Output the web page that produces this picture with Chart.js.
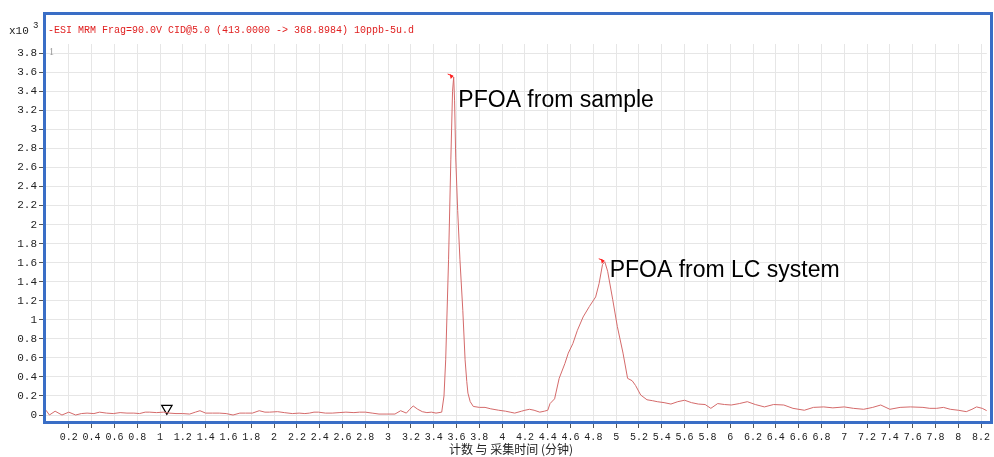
<!DOCTYPE html>
<html lang="zh">
<head>
    <meta charset="UTF-8">
    <title>PFOA MRM chromatogram</title>
    <script src="https://cdn.jsdelivr.net/npm/chart.js"></script>
    <style>
        html, body {
            margin: 0;
            padding: 0;
            background: #ffffff;
        }
        #wrap {
            position: relative;
            width: 994px;
            height: 457px;
        }
    </style>
</head>
<body>
    <div id="wrap">
        <canvas id="chrom" width="994" height="457"></canvas>
    </div>

    <script>
        // acquisition time (min)
        const times = [
            0.00, 0.03, 0.08, 0.14, 0.20, 0.26, 0.31, 0.36, 0.42, 0.47, 0.53, 0.59, 0.65, 0.71, 0.77, 0.82,
            0.87, 0.91, 0.97, 1.03, 1.08, 1.14, 1.20, 1.26, 1.31, 1.35, 1.40, 1.46, 1.52, 1.58, 1.64, 1.70,
            1.75, 1.81, 1.87, 1.92, 1.96, 2.03, 2.09, 2.16, 2.22, 2.27, 2.31, 2.35, 2.39, 2.45, 2.51, 2.57,
            2.63, 2.70, 2.75, 2.80, 2.86, 2.92, 2.99, 3.06, 3.11, 3.16, 3.19, 3.22, 3.26, 3.30, 3.34, 3.38,
            3.42, 3.47, 3.49, 3.505, 3.53, 3.55, 3.565, 3.575, 3.583, 3.593, 3.61, 3.63, 3.655, 3.675, 3.69, 3.70,
            3.72, 3.747, 3.80, 3.85, 3.90, 3.97, 4.03, 4.07, 4.11, 4.17, 4.20, 4.24, 4.28, 4.33, 4.37, 4.40,
            4.42, 4.46, 4.50, 4.55, 4.58, 4.62, 4.66, 4.71, 4.765, 4.82, 4.85, 4.88, 4.90, 4.925, 4.97, 5.01,
            5.06, 5.10, 5.14, 5.17, 5.215, 5.27, 5.32, 5.36, 5.42, 5.48, 5.54, 5.60, 5.66, 5.72, 5.78, 5.83,
            5.89, 5.95, 6.01, 6.08, 6.15, 6.22, 6.30, 6.38, 6.47, 6.55, 6.65, 6.73, 6.82, 6.90, 7.00, 7.08,
            7.17, 7.25, 7.32, 7.40, 7.49, 7.58, 7.69, 7.75, 7.81, 7.87, 7.93, 8.00, 8.07, 8.12, 8.16, 8.21, 8.25
        ];

        // counts (x10^3)
        const counts = [
            0.05, 0.00, 0.04, 0.00, 0.03, 0.00, 0.015, 0.02, 0.015, 0.03, 0.02, 0.015, 0.025, 0.02, 0.02, 0.015,
            0.03, 0.03, 0.025, 0.03, 0.02, 0.015, 0.015, 0.01, 0.03, 0.045, 0.02, 0.02, 0.02, 0.015, 0.00, 0.02,
            0.02, 0.02, 0.045, 0.03, 0.03, 0.035, 0.025, 0.015, 0.02, 0.015, 0.02, 0.03, 0.03, 0.02, 0.02, 0.025,
            0.03, 0.025, 0.03, 0.03, 0.02, 0.01, 0.01, 0.01, 0.045, 0.02, 0.06, 0.095, 0.06, 0.035, 0.025, 0.03,
            0.02, 0.03, 0.20, 0.58, 1.63, 2.68, 3.40, 3.55, 3.30, 2.70, 2.15, 1.63, 1.10, 0.58, 0.35, 0.23,
            0.14, 0.09, 0.08, 0.08, 0.065, 0.05, 0.04, 0.03, 0.02, 0.04, 0.05, 0.06, 0.05, 0.03, 0.04, 0.05,
            0.12, 0.17, 0.385, 0.54, 0.65, 0.75, 0.89, 1.03, 1.14, 1.24, 1.38, 1.58, 1.61, 1.51, 1.21, 0.93,
            0.65, 0.385, 0.36, 0.31, 0.21, 0.16, 0.15, 0.14, 0.13, 0.115, 0.14, 0.155, 0.13, 0.115, 0.11, 0.07,
            0.12, 0.11, 0.105, 0.12, 0.14, 0.11, 0.085, 0.11, 0.105, 0.07, 0.05, 0.08, 0.085, 0.075, 0.085, 0.07,
            0.06, 0.08, 0.105, 0.06, 0.08, 0.085, 0.08, 0.07, 0.07, 0.08, 0.06, 0.05, 0.035, 0.06, 0.085, 0.07, 0.045
        ];

        // tick labels
        const xTicks = [0.2, 0.4, 0.6, 0.8, 1, 1.2, 1.4, 1.6, 1.8, 2, 2.2, 2.4, 2.6, 2.8, 3, 3.2, 3.4, 3.6, 3.8, 4,
            4.2, 4.4, 4.6, 4.8, 5, 5.2, 5.4, 5.6, 5.8, 6, 6.2, 6.4, 6.6, 6.8, 7, 7.2, 7.4, 7.6, 7.8, 8, 8.2];
        const yTicks = [0, 0.2, 0.4, 0.6, 0.8, 1, 1.2, 1.4, 1.6, 1.8, 2, 2.2, 2.4, 2.6, 2.8, 3, 3.2, 3.4, 3.6, 3.8];

        // integration start marker and peak labels
        const markerTime = [1.06];
        const markerCount = [0.07];
        const peakTimes = [3.575, 4.90];
        const peakCounts = [3.55, 1.61];
        const peakLabels = ['PFOA from sample', 'PFOA from LC system'];
        const labelTimes = [3.616, 4.943];
        const labelCounts = [3.236, 1.45];

        const traceTitle = '-ESI MRM Frag=90.0V CID@5.0 (413.0000 -> 368.8984) 10ppb-5u.d';
        const xTitle = '计数 与 采集时间 (分钟)';

        const monoFont = '"Liberation Mono", "DejaVu Sans Mono", monospace';

        // frame, header texts, peak arrows and labels
        const decorations = {
            id: 'decorations',
            afterDatasetsDraw(chart) {
                const ctx = chart.ctx;
                const xs = chart.scales.x;
                const ys = chart.scales.y;
                ctx.save();

                // small red arrows on the apexes
                ctx.strokeStyle = '#ff2020';
                ctx.fillStyle = '#ff2020';
                ctx.lineWidth = 1;
                peakTimes.forEach((t, i) => {
                    const px = xs.getPixelForValue(t);
                    const py = ys.getPixelForValue(peakCounts[i]);
                    ctx.beginPath();
                    ctx.moveTo(px - 6, py - 3);
                    ctx.lineTo(px - 1, py - 1);
                    ctx.stroke();
                    ctx.beginPath();
                    ctx.moveTo(px, py - 1);
                    ctx.lineTo(px - 4, py - 3);
                    ctx.lineTo(px - 3, py + 2);
                    ctx.closePath();
                    ctx.fill();
                });

                // peak annotations
                ctx.fillStyle = '#000000';
                ctx.font = '23px "Liberation Sans", Arial, sans-serif';
                ctx.textAlign = 'left';
                ctx.textBaseline = 'alphabetic';
                peakLabels.forEach((txt, i) => {
                    ctx.fillText(txt, xs.getPixelForValue(labelTimes[i]), ys.getPixelForValue(labelCounts[i]));
                });

                // blue frame
                ctx.strokeStyle = '#3a6ec6';
                ctx.lineWidth = 3;
                ctx.strokeRect(44.5, 13.5, 947, 409);

                // header
                ctx.fillStyle = '#e02020';
                ctx.font = '10px ' + monoFont;
                ctx.fillText(traceTitle, 48, 33);

                ctx.fillStyle = '#222222';
                ctx.font = '11px ' + monoFont;
                ctx.fillText('x10', 9, 34);
                ctx.font = '9px ' + monoFont;
                ctx.fillText('3', 33, 28);

                ctx.fillStyle = '#999999';
                ctx.font = '10px "Liberation Serif", serif';
                ctx.fillText('1', 49, 55);

                // x axis title
                ctx.fillStyle = '#222222';
                ctx.font = '12px "Noto Sans CJK SC", sans-serif';
                ctx.textAlign = 'center';
                ctx.fillText(xTitle, 511, 454);
                ctx.restore();
            }
        };

        const points = times.map((t, i) => ({ x: t, y: counts[i] }));
        const marker = markerTime.map((t, i) => ({ x: t, y: markerCount[i] }));

        new Chart(document.getElementById('chrom'), {
            type: 'line',
            data: {
                datasets: [
                    {
                        data: points,
                        borderColor: '#d46a6a',
                        borderWidth: 1,
                        pointRadius: 0,
                        tension: 0,
                        fill: false
                    },
                    {
                        type: 'scatter',
                        data: marker,
                        pointStyle: 'triangle',
                        rotation: 180,
                        pointRadius: 6,
                        backgroundColor: '#ffffff',
                        borderColor: '#000000',
                        borderWidth: 1.2
                    }
                ]
            },
            options: {
                responsive: false,
                animation: false,
                layout: {
                    padding: { top: 44, right: 3, left: 0, bottom: 0 }
                },
                plugins: {
                    legend: { display: false },
                    tooltip: { enabled: false }
                },
                scales: {
                    x: {
                        type: 'linear',
                        min: 0,
                        max: 8.25,
                        afterFit: function(scale) { scale.height = 36; },
                        afterBuildTicks: function(scale) {
                            scale.ticks = xTicks.map(v => ({ value: v }));
                        },
                        grid: {
                            color: '#e6e6e6',
                            tickColor: '#555555',
                            tickLength: 7
                        },
                        border: { display: false },
                        ticks: {
                            autoSkip: false,
                            maxRotation: 0,
                            padding: 3,
                            color: '#222222',
                            font: { family: monoFont, size: 10 },
                            callback: v => String(v)
                        }
                    },
                    y: {
                        min: -0.063,
                        max: 3.897,
                        afterFit: function(scale) { scale.width = 46; },
                        afterBuildTicks: function(scale) {
                            scale.ticks = yTicks.map(v => ({ value: v }));
                        },
                        grid: {
                            color: '#e6e6e6',
                            tickColor: '#555555',
                            tickLength: 7
                        },
                        border: { display: false },
                        ticks: {
                            autoSkip: false,
                            padding: 2,
                            color: '#222222',
                            font: { family: monoFont, size: 11 },
                            callback: v => String(v)
                        }
                    }
                }
            },
            plugins: [decorations]
        });
    </script>
</body>
</html>
